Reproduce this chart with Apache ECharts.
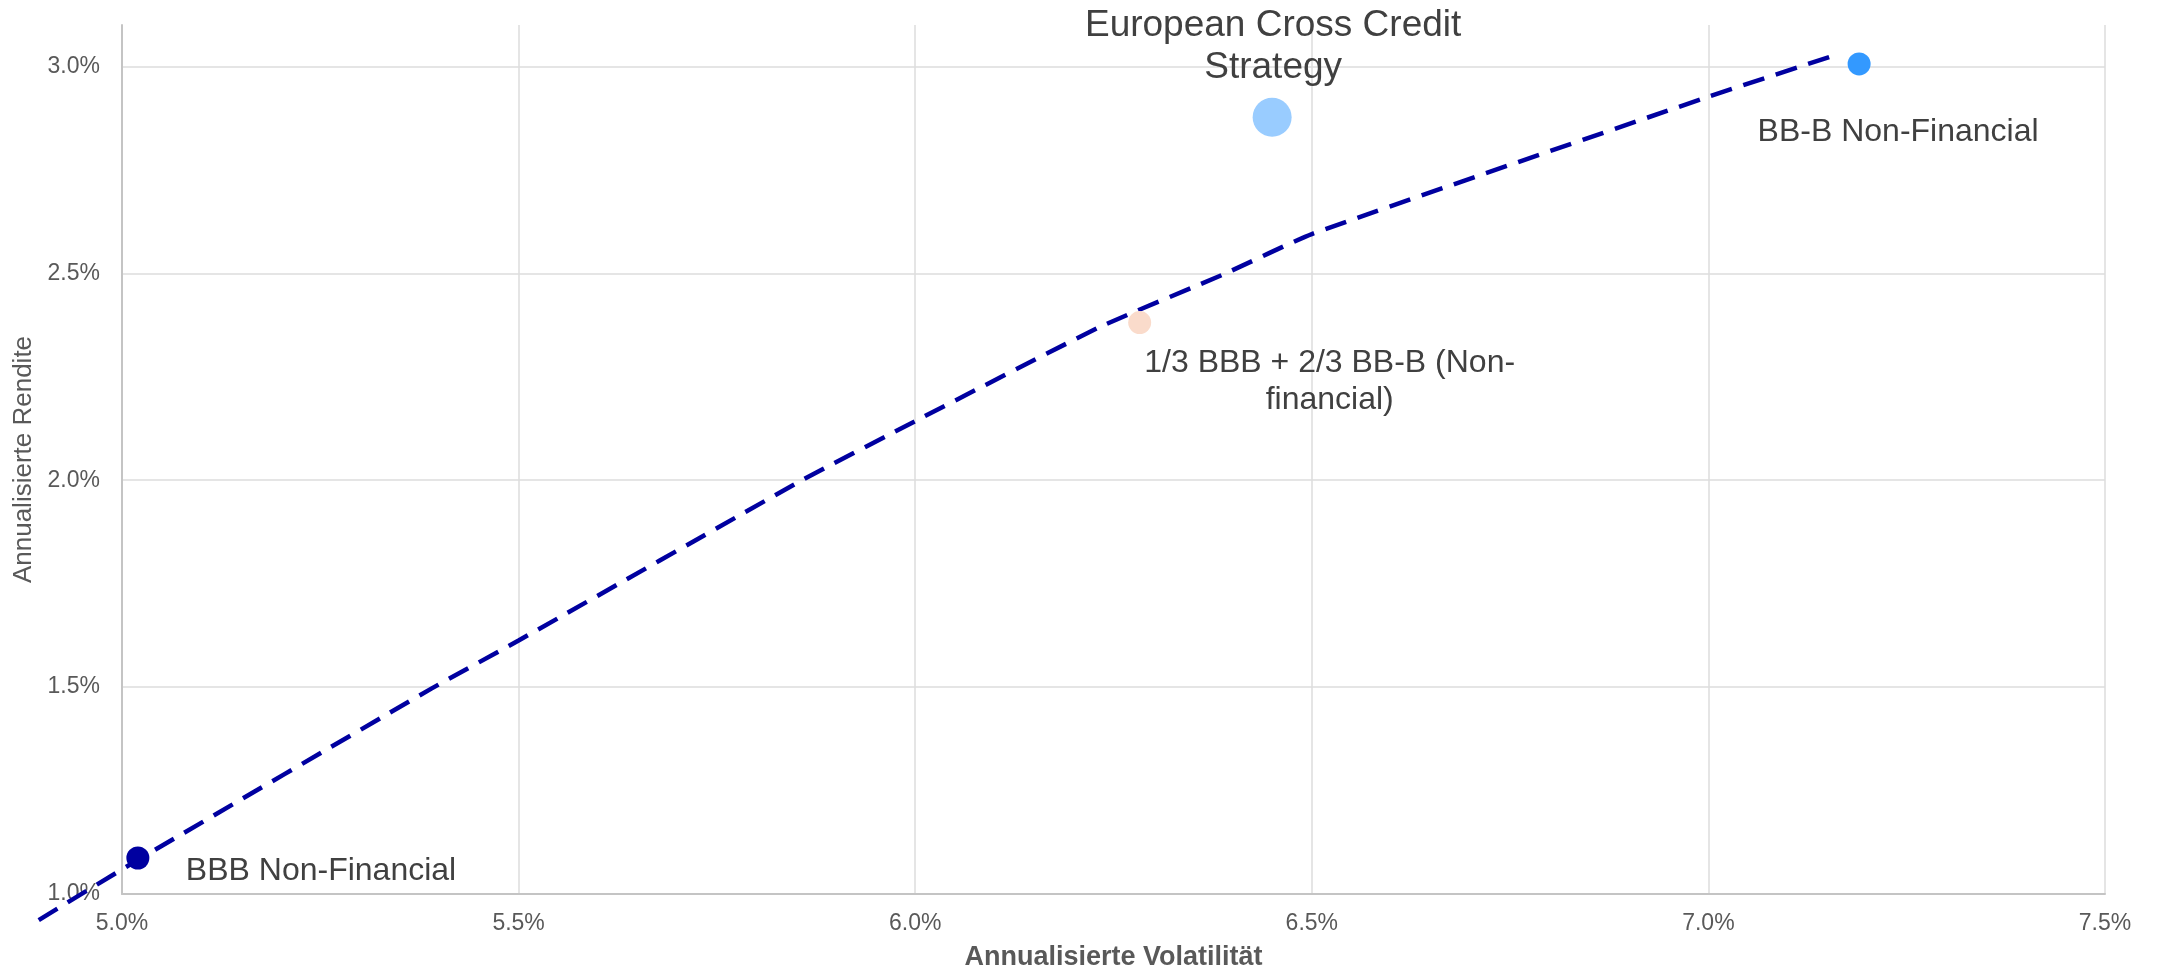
<!DOCTYPE html>
<html>
<head>
<meta charset="utf-8">
<script src="https://cdn.jsdelivr.net/npm/echarts@6/dist/echarts.min.js"></script>
<style>
html,body{margin:0;padding:0;background:#fff;}
#chart{width:2157px;height:976px;}
</style>
</head>
<body>
<div id="chart"></div>
<script>
// ---- Data ----
const pointNames = ['BBB Non-Financial', 'BB-B Non-Financial', '1/3 BBB + 2/3 BB-B (Non-financial)', 'European Cross Credit Strategy'];
const pointLabels = ['BBB Non-Financial', 'BB-B Non-Financial', '1/3 BBB + 2/3 BB-B (Non-\nfinancial)', 'European Cross Credit\nStrategy'];
const pointVol = [5.02, 7.19, 6.283, 6.45];   // Annualisierte Volatilität (%)
const pointRet = [1.087, 3.006, 2.381, 2.877]; // Annualisierte Rendite (%)

const frontierVol = [4.895, 5.02, 5.39, 5.5, 5.855, 6.0, 6.234, 6.39, 6.5, 7.0, 7.1625];
const frontierRet = [0.942, 1.087, 1.5, 1.616, 2.0, 2.145, 2.373, 2.5, 2.596, 2.927, 3.029];

const xTicks = [5.0, 5.5, 6.0, 6.5, 7.0, 7.5];
const yTicks = [1.0, 1.5, 2.0, 2.5, 3.0];
const yTop = 3.1;

// ---- Layout & styles ----
const W = 2157, H = 976;
const GRID = {left: 122, right: 52, top: 25, bottom: 80};
const FONT = 'Liberation Sans, Arial, Helvetica, sans-serif';
const pointStyles = [
  {color: '#0000A0', size: 23, label: {align: 'left', offset: [48, 13], fontSize: 32, lineHeight: 37}},
  {color: '#3399FF', size: 23, label: {align: 'center', offset: [39, 68], fontSize: 32, lineHeight: 37}},
  {color: '#FADBCB', size: 23, label: {align: 'center', offset: [190, 59], fontSize: 32, lineHeight: 37}},
  {color: '#99CCFF', size: 39, label: {align: 'center', offset: [1, -70], fontSize: 37, lineHeight: 42}}
];

// A full-canvas overlay grid whose scales coincide with the main plot's scales,
// so the frontier line can run past the plot frame (as in the original).
const xMin = xTicks[0], xMax = xTicks[xTicks.length - 1], yMin = yTicks[0];
const xPerPx = (xMax - xMin) / (W - GRID.left - GRID.right);
const yPerPx = (yTop - yMin) / (H - GRID.top - GRID.bottom);
const ovXMin = xMin - GRID.left * xPerPx, ovXMax = xMax + GRID.right * xPerPx;
const ovYMin = yMin - GRID.bottom * yPerPx, ovYMax = yTop + GRID.top * yPerPx;

const chart = echarts.init(document.getElementById('chart'), null, {renderer: 'canvas'});

const fmt = v => {
  const r = Math.round(v * 10) / 10;
  if (Math.abs(v - r) > 1e-6) return '';
  return r.toFixed(1) + '%';
};

const scatterData = pointVol.map((v, i) => ({
  name: pointNames[i],
  value: [v, pointRet[i]],
  symbolSize: pointStyles[i].size,
  itemStyle: {color: pointStyles[i].color, opacity: 1},
  label: {
    show: true,
    formatter: pointLabels[i],
    position: 'inside',
    align: pointStyles[i].label.align,
    verticalAlign: 'middle',
    offset: pointStyles[i].label.offset,
    fontSize: pointStyles[i].label.fontSize,
    lineHeight: pointStyles[i].label.lineHeight,
    color: '#404040',
    fontFamily: FONT
  }
}));

const option = {
  animation: false,
  backgroundColor: '#ffffff',
  grid: [
    {left: GRID.left, right: GRID.right, top: GRID.top, bottom: GRID.bottom, containLabel: false},
    {left: 0, right: 0, top: 0, bottom: 0, containLabel: false}
  ],
  xAxis: [{
    type: 'value',
    gridIndex: 0,
    min: xMin,
    max: xMax,
    interval: 0.5,
    name: 'Annualisierte Volatilität',
    nameLocation: 'middle',
    nameGap: 50,
    nameTextStyle: {fontSize: 27, fontWeight: 'bold', color: '#595959', fontFamily: FONT},
    axisLine: {show: true, lineStyle: {color: '#c4c4c4', width: 2}},
    axisTick: {show: false},
    axisLabel: {formatter: fmt, fontSize: 23, color: '#595959', margin: 18, fontFamily: FONT},
    splitLine: {show: true, lineStyle: {color: '#dcdcdc', width: 1.5}}
  }, {
    type: 'value',
    gridIndex: 1,
    min: ovXMin,
    max: ovXMax,
    show: false,
    splitLine: {show: false}
  }],
  yAxis: [{
    type: 'value',
    gridIndex: 0,
    min: yMin,
    max: yTop,
    interval: 0.5,
    name: 'Annualisierte Rendite',
    nameLocation: 'middle',
    nameGap: 82,
    nameRotate: 90,
    nameTextStyle: {fontSize: 26, color: '#595959', fontFamily: FONT},
    axisLine: {show: true, lineStyle: {color: '#c4c4c4', width: 2}},
    axisTick: {show: false},
    axisLabel: {formatter: fmt, fontSize: 23, color: '#595959', margin: 22, fontFamily: FONT, showMaxLabel: false},
    splitLine: {show: true, showMaxLine: false, lineStyle: {color: '#dcdcdc', width: 1.5}}
  }, {
    type: 'value',
    gridIndex: 1,
    min: ovYMin,
    max: ovYMax,
    show: false,
    splitLine: {show: false}
  }],
  series: [
    {
      type: 'line',
      name: 'Effizienzkurve',
      xAxisIndex: 1,
      yAxisIndex: 1,
      data: frontierVol.map((v, i) => [v, frontierRet[i]]),
      smooth: 0.15,
      showSymbol: false,
      symbol: 'none',
      clip: false,
      z: 3,
      lineStyle: {color: '#0000A0', width: 4.5, type: [22, 12], cap: 'butt'}
    },
    {
      type: 'scatter',
      name: 'Punkte',
      xAxisIndex: 0,
      yAxisIndex: 0,
      data: scatterData,
      clip: false,
      z: 4
    }
  ]
};

chart.setOption(option);
</script>
</body>
</html>
